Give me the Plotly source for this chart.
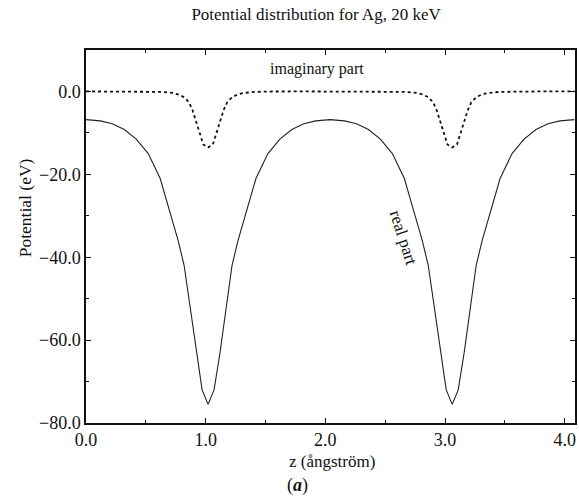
import plotly.graph_objects as go

# Real part of potential (eV) vs z (angstrom)
z_real = [0.00, 0.12, 0.22, 0.32, 0.42, 0.52, 0.62, 0.72, 0.77, 0.82, 0.87, 0.92, 0.97, 1.02,
          1.07, 1.12, 1.17, 1.22, 1.27, 1.32, 1.42, 1.52, 1.62, 1.72, 1.82, 1.92, 2.04,
          2.16, 2.26, 2.36, 2.46, 2.56, 2.66, 2.76, 2.81, 2.86, 2.91, 2.96, 3.01, 3.06,
          3.11, 3.16, 3.21, 3.26, 3.31, 3.36, 3.46, 3.56, 3.66, 3.76, 3.86, 3.96, 4.08]
v_real = [-6.8, -7.1, -7.8, -9.2, -11.5, -15.0, -21.0, -31.0, -36.0, -42.0, -52.0, -63.0, -72.0, -75.5,
          -72.0, -63.0, -52.0, -42.0, -36.0, -31.0, -21.0, -15.0, -11.5, -9.2, -7.8, -7.1, -6.8,
          -7.1, -7.8, -9.2, -11.5, -15.0, -21.0, -31.0, -36.0, -42.0, -52.0, -63.0, -72.0, -75.5,
          -72.0, -63.0, -52.0, -42.0, -36.0, -31.0, -21.0, -15.0, -11.5, -9.2, -7.8, -7.1, -6.8]

# Imaginary part of potential (eV) vs z (angstrom)
z_imag = [0.00, 0.30, 0.52, 0.62, 0.72, 0.77, 0.82, 0.86, 0.89, 0.92, 0.95, 0.98, 1.02,
          1.06, 1.09, 1.12, 1.15, 1.18, 1.22, 1.27, 1.32, 1.42, 1.52, 1.80, 2.04, 2.30,
          2.56, 2.66, 2.76, 2.81, 2.86, 2.90, 2.93, 2.96, 2.99, 3.02, 3.06,
          3.10, 3.13, 3.16, 3.19, 3.22, 3.26, 3.31, 3.36, 3.46, 3.56, 3.80, 4.08]
v_imag = [0.0, 0.0, -0.02, -0.1, -0.35, -0.7, -1.4, -2.6, -4.5, -7.0, -10.0, -12.8, -13.5,
          -12.8, -10.0, -7.0, -4.5, -2.6, -1.4, -0.7, -0.35, -0.1, -0.02, 0.0, 0.0, 0.0,
          -0.02, -0.1, -0.35, -0.7, -1.4, -2.6, -4.5, -7.0, -10.0, -12.8, -13.5,
          -12.8, -10.0, -7.0, -4.5, -2.6, -1.4, -0.7, -0.35, -0.1, -0.02, 0.0, 0.0]

x_ticks = [0.0, 1.0, 2.0, 3.0, 4.0]
y_ticks = [0.0, -20.0, -40.0, -60.0, -80.0]

FONT = "Liberation Serif"

fig = go.Figure()
fig.add_trace(go.Scatter(x=z_real, y=v_real, mode="lines",
                         line=dict(color="#222", width=1.1), showlegend=False))
fig.add_trace(go.Scatter(x=z_imag, y=v_imag, mode="lines",
                         line=dict(color="#111", width=1.8, dash="dot"), showlegend=False))

fig.add_annotation(x=1.93, y=5.3, text="imaginary part", showarrow=False,
                   font=dict(family=FONT, size=16, color="#111"))
fig.add_annotation(x=2.65, y=-35.3, text="real part", showarrow=False, textangle=72,
                   font=dict(family=FONT, size=17, color="#111"))

axis_common = dict(showline=True, linecolor="#111", linewidth=1.5, mirror="ticks",
                   ticks="inside", ticklen=5, tickcolor="#111", showgrid=False, zeroline=False,
                   tickfont=dict(family=FONT, size=18, color="#111"))

fig.update_xaxes(range=[0, 4.086], tickvals=x_ticks, tickformat=".1f",
                 minor=dict(dtick=0.5, tick0=0, ticks="inside", ticklen=3, tickcolor="#111"),
                 **axis_common)
fig.update_yaxes(range=[-80, 10], tickvals=y_ticks, tickformat=".1f",
                 minor=dict(dtick=10, tick0=0, ticks="inside", ticklen=3, tickcolor="#111"),
                 **axis_common)

fig.add_annotation(xref="paper", yref="paper", x=(333 - 86) / 491, y=(423 - 461) / 373,
                   text="z (ångström)", showarrow=False, yanchor="middle",
                   font=dict(family=FONT, size=17, color="#111"))
fig.add_annotation(xref="paper", yref="paper", x=(25 - 86) / 491, y=(423 - 208) / 373,
                   text="Potential (eV)", showarrow=False, textangle=-90,
                   xanchor="center", yanchor="middle",
                   font=dict(family=FONT, size=17.5, color="#111"))
fig.add_annotation(xref="paper", yref="paper", x=(298 - 86) / 491, y=(423 - 486) / 373,
                   text="(<i><b>a</b></i>)", showarrow=False, yanchor="middle",
                   font=dict(family=FONT, size=18, color="#111"))

fig.update_layout(
    width=579, height=498,
    margin=dict(l=86, r=2, t=50, b=75),
    paper_bgcolor="white", plot_bgcolor="white",
    title=dict(text="Potential distribution for Ag, 20 keV", x=(317 - 86) / 491, xref="paper",
               xanchor="center", y=1 - 14 / 498, yanchor="middle",
               font=dict(family=FONT, size=17, color="#111")),
)

fig.write_html("out.html")
